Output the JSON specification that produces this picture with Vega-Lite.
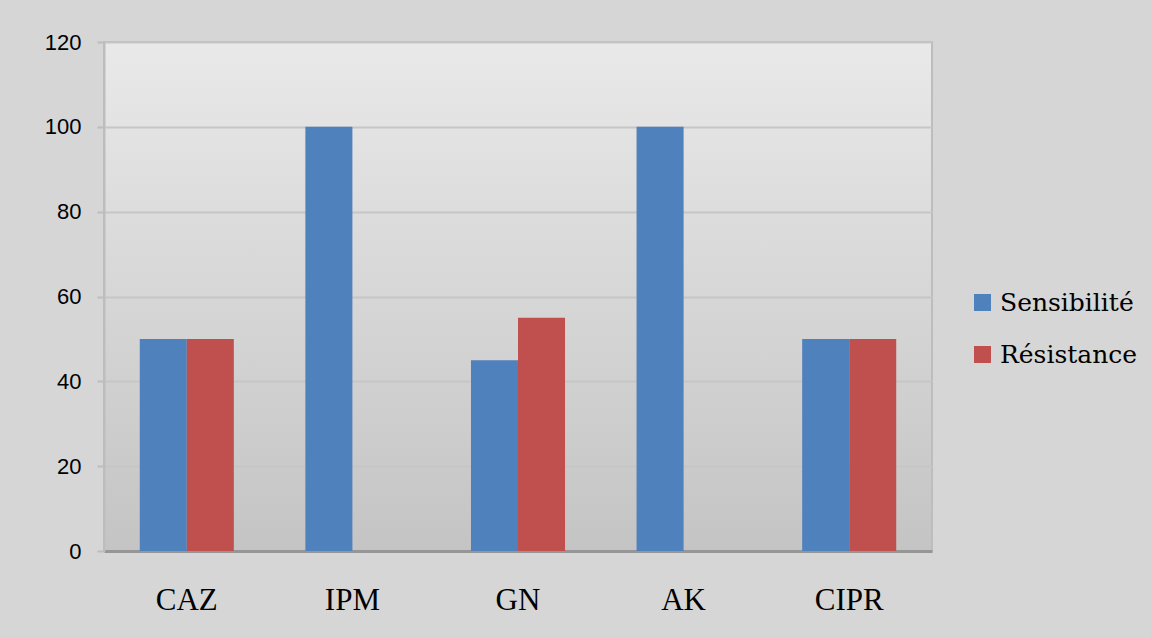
{
  "$schema": "https://vega.github.io/schema/vega-lite/v6.json",
  "autosize": {"type": "none"},
  "width": 828,
  "height": 509,
  "padding": {"left": 104, "top": 42, "right": 219, "bottom": 86},
  "background": "#d6d6d6",
  "data": {
    "values": [
      {"antibiotique": "CAZ", "profil": "Sensibilité", "pct": 50},
      {"antibiotique": "CAZ", "profil": "Résistance", "pct": 50},
      {"antibiotique": "IPM", "profil": "Sensibilité", "pct": 100},
      {"antibiotique": "IPM", "profil": "Résistance", "pct": 0},
      {"antibiotique": "GN", "profil": "Sensibilité", "pct": 45},
      {"antibiotique": "GN", "profil": "Résistance", "pct": 55},
      {"antibiotique": "AK", "profil": "Sensibilité", "pct": 100},
      {"antibiotique": "AK", "profil": "Résistance", "pct": 0},
      {"antibiotique": "CIPR", "profil": "Sensibilité", "pct": 50},
      {"antibiotique": "CIPR", "profil": "Résistance", "pct": 50}
    ]
  },
  "mark": {"type": "bar", "stroke": null},
  "encoding": {
    "x": {
      "field": "antibiotique",
      "type": "nominal",
      "sort": ["CAZ", "IPM", "GN", "AK", "CIPR"],
      "scale": {"paddingInner": 0.432, "paddingOuter": 0.216},
      "axis": {
        "title": null,
        "labelAngle": 0,
        "ticks": false,
        "labelFont": "Liberation Serif",
        "labelFontSize": 31,
        "labelColor": "#000000",
        "labelBaseline": "alphabetic",
        "labelPadding": 58,
        "domainColor": "#969696",
        "domainWidth": 3,
        "grid": false
      }
    },
    "xOffset": {
      "field": "profil",
      "type": "nominal",
      "sort": ["Sensibilité", "Résistance"],
      "scale": {"paddingInner": 0, "paddingOuter": 0}
    },
    "y": {
      "field": "pct",
      "type": "quantitative",
      "scale": {"domain": [0, 120], "nice": false},
      "axis": {
        "title": null,
        "values": [0, 20, 40, 60, 80, 100, 120],
        "labelFont": "Liberation Sans",
        "labelFontSize": 22,
        "labelColor": "#000000",
        "tickSize": 7,
        "tickColor": "#bdbdbd",
        "tickWidth": 2,
        "labelPadding": 16,
        "domainColor": "#bdbdbd",
        "domainWidth": 2,
        "gridColor": "#c6c6c6",
        "gridWidth": 2
      }
    },
    "color": {
      "field": "profil",
      "type": "nominal",
      "sort": ["Sensibilité", "Résistance"],
      "scale": {"domain": ["Sensibilité", "Résistance"], "range": ["#4f81bd", "#c0504d"]},
      "legend": {
        "title": null,
        "orient": "none",
        "legendX": 866,
        "legendY": 248,
        "padding": 0,
        "symbolType": "square",
        "symbolSize": 289,
        "symbolStrokeWidth": 0,
        "labelFont": "DejaVu Serif",
        "labelFontSize": 25,
        "labelColor": "#000000",
        "labelOffset": 5,
        "rowPadding": 26,
        "labelLimit": 300
      }
    }
  },
  "config": {
    "view": {
      "fill": {
        "gradient": "linear",
        "x1": 0, "y1": 0, "x2": 0, "y2": 1,
        "stops": [
          {"offset": 0, "color": "#e9e9e9"},
          {"offset": 1, "color": "#c4c4c4"}
        ]
      },
      "stroke": "#bdbdbd",
      "strokeWidth": 2
    }
  }
}
